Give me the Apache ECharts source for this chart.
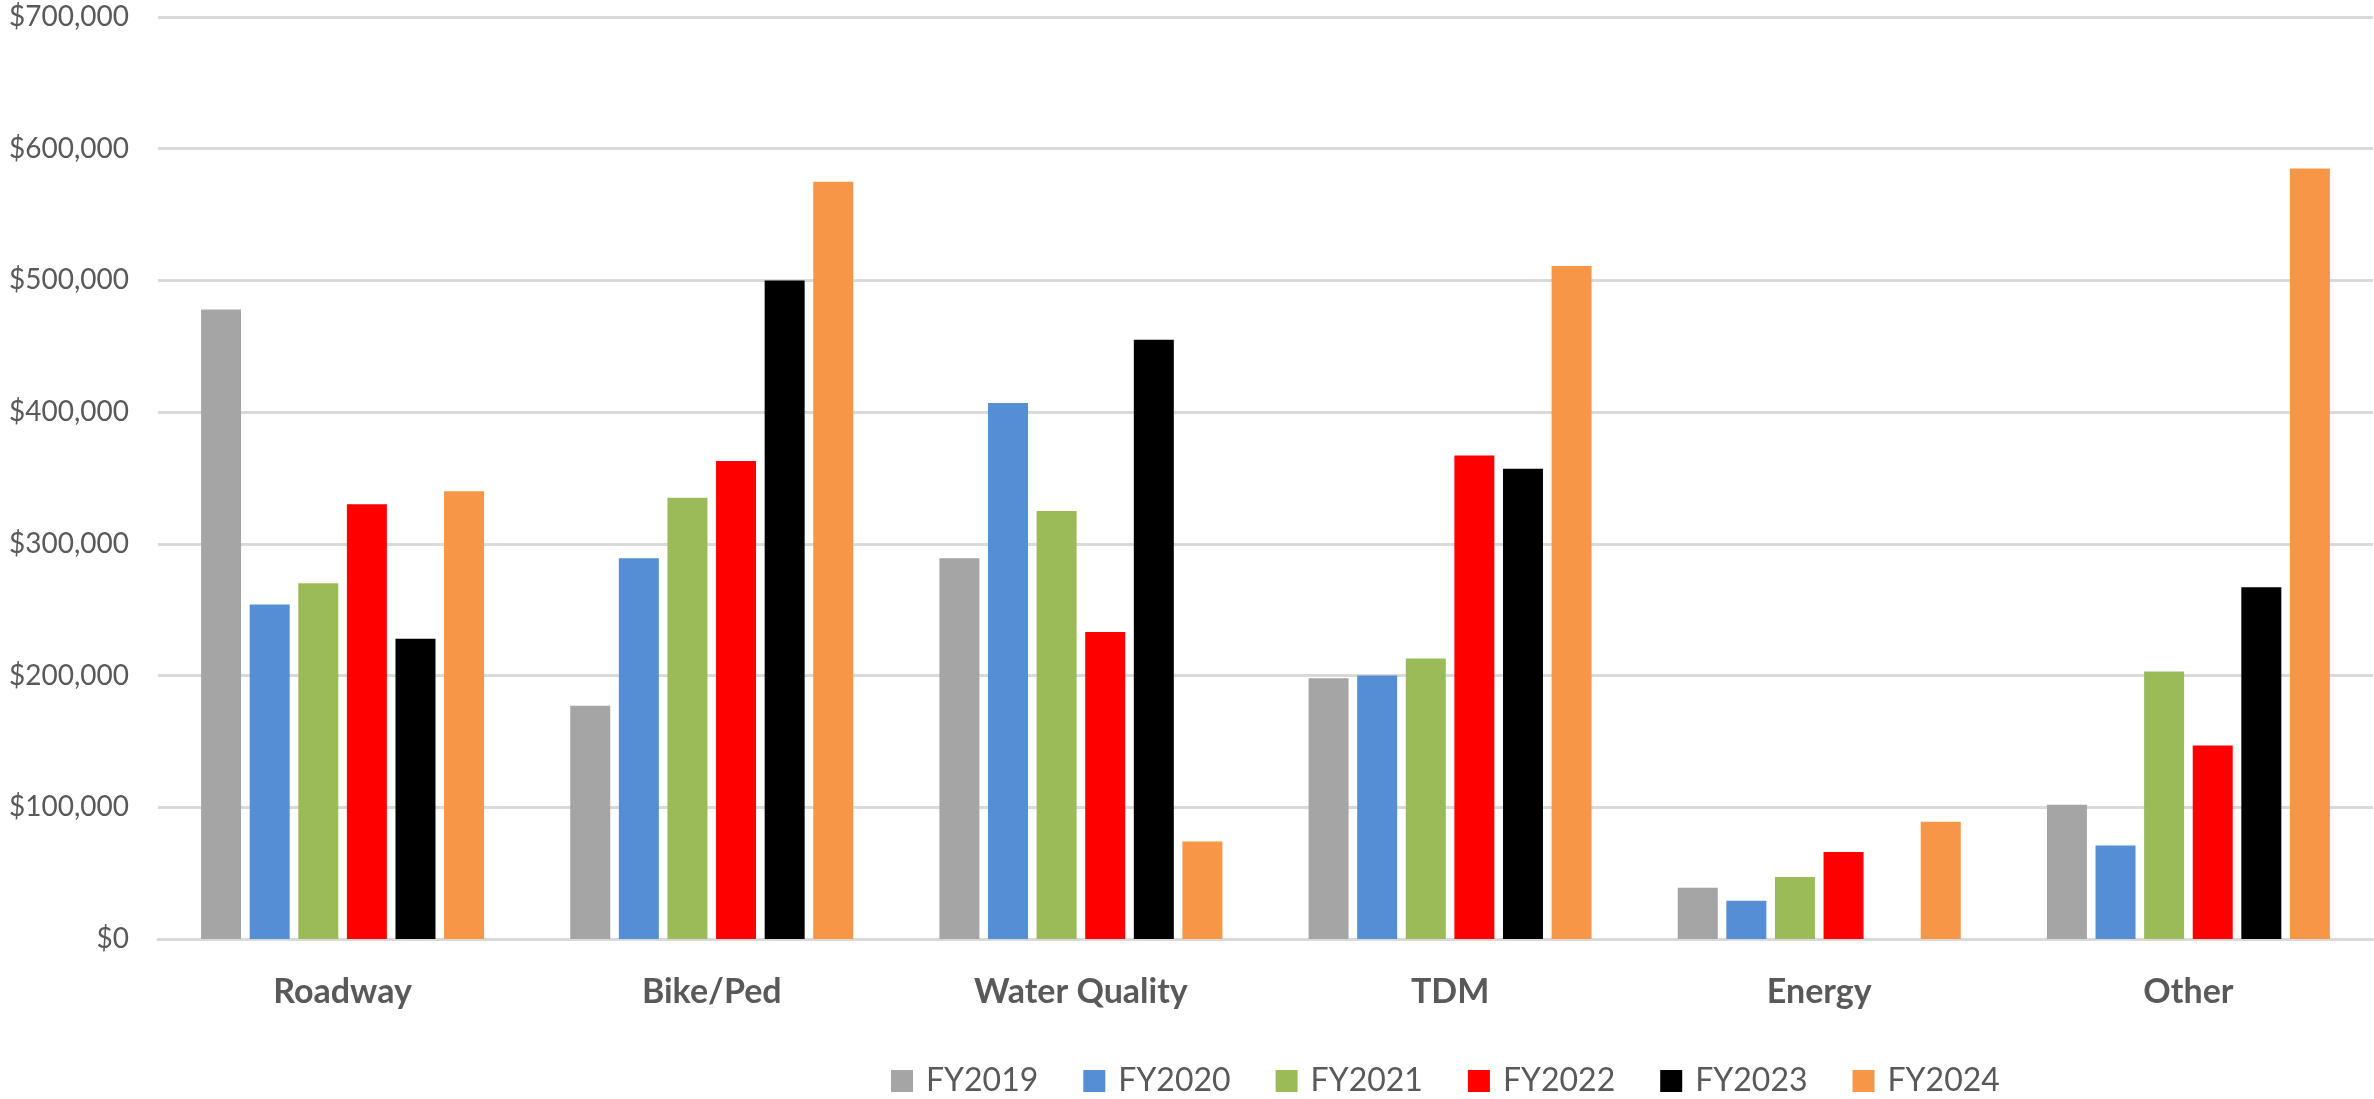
<!DOCTYPE html>
<html>
<head>
<meta charset="utf-8">
<script src="https://cdn.jsdelivr.net/npm/echarts@6/dist/echarts.min.js"></script>
<style>
html,body{margin:0;padding:0;background:#fff;}
#chart{width:2374px;height:1099px;}
</style>
</head>
<body>
<div id="chart"></div>
<script>
const categories = ['Roadway', 'Bike/Ped', 'Water Quality', 'TDM', 'Energy', 'Other'];
const seriesNames = ['FY2019', 'FY2020', 'FY2021', 'FY2022', 'FY2023', 'FY2024'];
const fy2019 = [478000, 177000, 289000, 198000, 39000, 102000];
const fy2020 = [254000, 289000, 407000, 200000, 29000, 71000];
const fy2021 = [270000, 335000, 325000, 213000, 47000, 203000];
const fy2022 = [330000, 363000, 233000, 367000, 66000, 147000];
const fy2023 = [228000, 500000, 455000, 357000, 0, 267000];
const fy2024 = [340000, 575000, 74000, 511000, 89000, 585000];
const yTicks = [0, 100000, 200000, 300000, 400000, 500000, 600000, 700000];
const colors = ['#A5A5A5', '#558ED5', '#9BBB59', '#FF0000', '#000000', '#F79646'];

const allData = [fy2019, fy2020, fy2021, fy2022, fy2023, fy2024];
const chart = echarts.init(document.getElementById('chart'), null, {renderer: 'canvas'});
const textColor = '#595959';
const font = 'Lato, "Open Sans", sans-serif';

const option = {
  animation: false,
  backgroundColor: '#ffffff',
  color: colors,
  grid: {left: 158, right: 1, top: 17, bottom: 160, containLabel: false},
  legend: {
    data: seriesNames,
    left: 886,
    top: 1060,
    itemWidth: 22,
    itemHeight: 22,
    itemGap: 45,
    icon: 'rect',
    textStyle: {color: textColor, fontSize: 32, fontFamily: font, padding: [0, 0, 0, 8]}
  },
  xAxis: {
    type: 'category',
    data: categories,
    axisLine: {show: true, lineStyle: {color: '#d9d9d9', width: 3}},
    axisTick: {show: false},
    axisLabel: {color: textColor, fontSize: 34, fontWeight: 'bold', fontFamily: font, margin: 36}
  },
  yAxis: {
    type: 'value',
    min: yTicks[0],
    max: yTicks[yTicks.length - 1],
    interval: yTicks[1] - yTicks[0],
    axisLine: {show: false},
    axisTick: {show: false},
    splitLine: {show: true, lineStyle: {color: '#d9d9d9', width: 3}},
    axisLabel: {
      color: textColor, fontSize: 28, fontFamily: font, margin: 29,
      formatter: v => '$' + v.toLocaleString('en-US')
    }
  },
  series: seriesNames.map((name, i) => ({
    name: name,
    type: 'bar',
    data: allData[i],
    barWidth: 40,
    barGap: '21.5%',
    itemStyle: {color: colors[i]}
  }))
};
chart.setOption(option);
</script>
</body>
</html>
